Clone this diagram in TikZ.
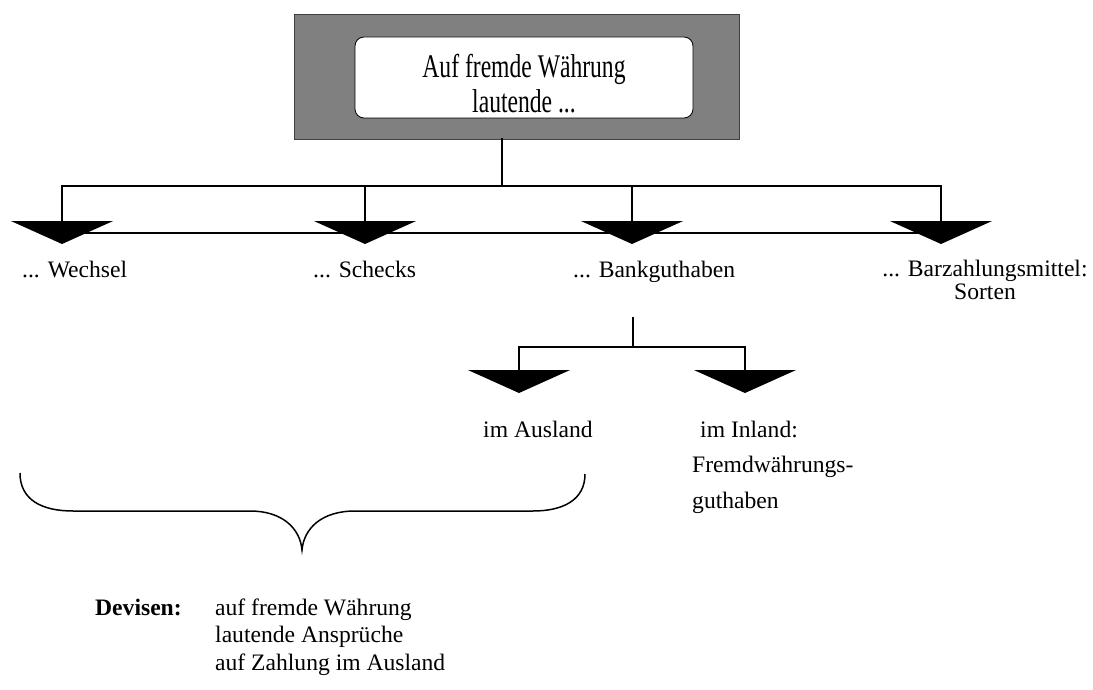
\documentclass[tikz,border=0pt]{standalone}
\usepackage{fontspec}
\setmainfont{Liberation Serif}
\usepackage{tikz}
\usetikzlibrary{arrows.meta}

\begin{document}
\begin{tikzpicture}[x=1pt, y=-1pt,
        font=\fontsize{23.6}{27}\selectfont,
        linie/.style={line width=2pt, line cap=rect},
        pfeil/.style={line width=2pt, -{Triangle[width=102pt,length=23pt]}},
        etikett/.style={inner sep=0pt, anchor=base west}]
        \useasboundingbox (0,0) rectangle (1093,690);

        % Kopf
        \node[draw=black!75, fill=gray, line width=0.8pt, minimum width=445pt, minimum height=125pt] (rahmen) at (516.5,76.5) {};
        \node[draw, fill=white, line width=0.8pt, rounded corners=9pt, minimum width=338pt, minimum height=81pt, inner sep=0pt, align=center, font=\fontsize{23.6}{35}\selectfont] (titel) at (524,77.5) {\rule{0pt}{36pt}\scalebox{1}[1.4]{Auf fremde W\"ahrung}\\\scalebox{1}[1.4]{lautende ...}};

        \coordinate (k1) at (502,186);
        \coordinate (d1) at (62,186);
        \coordinate (d2) at (365,186);
        \coordinate (d3) at (632,186);
        \coordinate (d4) at (941,186);
        \coordinate (u1) at (62,233);
        \coordinate (u2) at (941,233);
        \coordinate (s1) at (62,244);
        \coordinate (s2) at (365,244);
        \coordinate (s3) at (632,244);
        \coordinate (s4) at (941,244);

        \draw[linie] (rahmen.south -| k1) -- (k1);
        \draw[linie] (d1) -- (d4);
        \draw[linie] (u1) -- (u2);
        \draw[pfeil] (d1) -- (s1);
        \draw[pfeil] (d2) -- (s2);
        \draw[pfeil] (d3) -- (s3);
        \draw[pfeil] (d4) -- (s4);

        \node[etikett] (wechsel) at (22,277) {... Wechsel};
        \node[etikett] (schecks) at (313,277) {... Schecks};
        \node[etikett] (bank) at (573,277) {... Bankguthaben};
        \node[inner sep=0pt, anchor=base, align=center, font=\fontsize{23.6}{23}\selectfont] (bar) at (985,299) {... Barzahlungsmittel:\\Sorten};

        % Bankguthaben
        \coordinate (b0) at (633,318);
        \coordinate (b1) at (633,347);
        \coordinate (a1) at (519,347);
        \coordinate (a2) at (745,347);
        \coordinate (t1) at (519,393);
        \coordinate (t2) at (745,393);

        \draw[linie] (b0) -- (b1);
        \draw[linie] (a1) -- (a2);
        \draw[pfeil] (a1) -- (t1);
        \draw[pfeil] (a2) -- (t2);

        \node[etikett] (ausland) at (483,437) {im Ausland};
        \node[etikett, align=left, font=\fontsize{23.6}{35.5}\selectfont] (inland) at (692,508) {\hspace*{8pt}im Inland:\\Fremdw\"ahrungs-\\guthaben};

        % Klammer
        \draw[line width=1.5pt] (20,473) .. controls (20,500) and (42,511) .. (73,511) -- (250,511)
            .. controls (282,511) and (300,528) .. (302,550)
            .. controls (304,528) and (322,511) .. (355,511) -- (533,511)
            .. controls (563,511) and (585,500) .. (585,474);

        \node[etikett, font=\fontsize{23.6}{27}\selectfont\bfseries] (devisen) at (95,615) {Devisen:};
        \node[etikett, align=left, font=\fontsize{23.6}{27.5}\selectfont] (erklaerung) at (215,670) {auf fremde W\"ahrung\\lautende Anspr\"uche\\auf Zahlung im Ausland};
\end{tikzpicture}
\end{document}
